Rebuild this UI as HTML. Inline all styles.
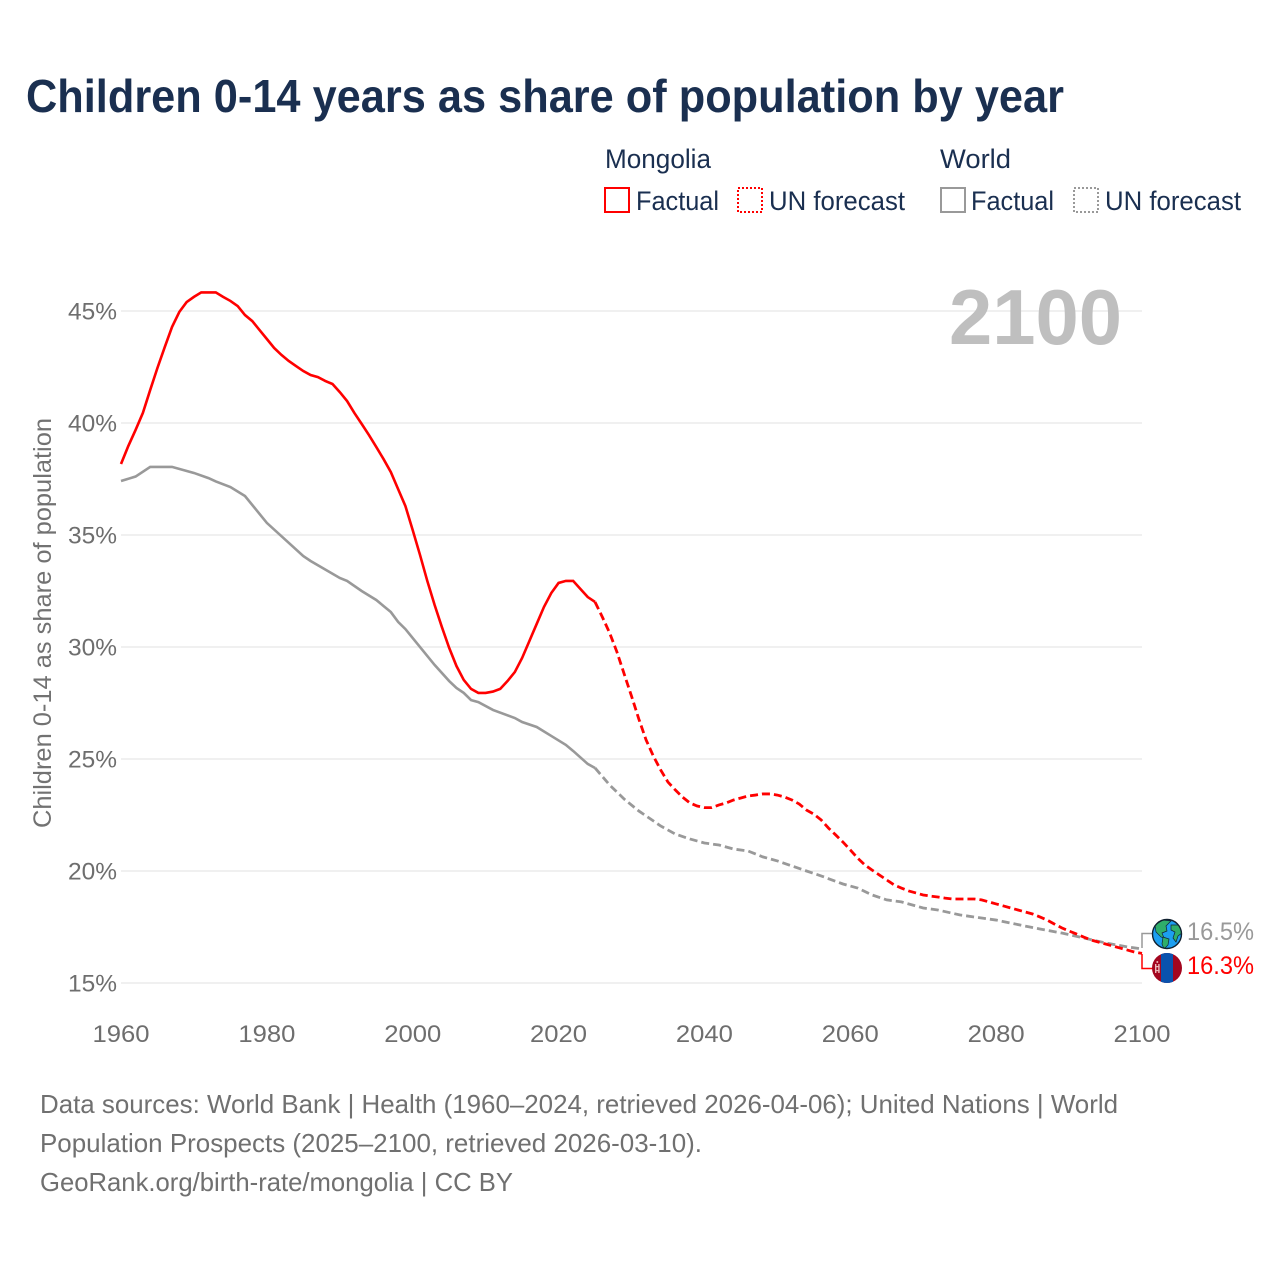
<!DOCTYPE html>
<html lang="en">
<head>
<meta charset="utf-8">
<title>Children 0-14 years as share of population by year</title>
<style>
html,body{margin:0;padding:0;background:#fff;}
svg{display:block;font-family:"Liberation Sans",sans-serif;}
</style>
</head>
<body>
<svg id="chart" xmlns="http://www.w3.org/2000/svg" width="1280" height="1280" viewBox="0 0 1280 1280">
  <rect x="0" y="0" width="1280" height="1280" fill="#ffffff"/>
  <text x="26" y="112" font-size="46" font-weight="700" fill="#1a2f50" textLength="1038" lengthAdjust="spacingAndGlyphs">Children 0-14 years as share of population by year</text>

  <g font-size="27" fill="#1a2f50">
    <text x="605" y="168" textLength="106" lengthAdjust="spacingAndGlyphs">Mongolia</text>
    <text x="940" y="168" textLength="71" lengthAdjust="spacingAndGlyphs">World</text>
    <rect x="605" y="188" width="24" height="24" fill="none" stroke="#ff0000" stroke-width="2"/>
    <text x="636" y="210" textLength="83" lengthAdjust="spacingAndGlyphs">Factual</text>
    <rect x="738" y="188" width="24" height="24" fill="none" stroke="#ff0000" stroke-width="2" stroke-dasharray="2 2"/>
    <text x="769" y="210" textLength="136" lengthAdjust="spacingAndGlyphs">UN forecast</text>
    <rect x="941" y="188" width="24" height="24" fill="none" stroke="#999999" stroke-width="2"/>
    <text x="971" y="210" textLength="83" lengthAdjust="spacingAndGlyphs">Factual</text>
    <rect x="1074" y="188" width="24" height="24" fill="none" stroke="#999999" stroke-width="2" stroke-dasharray="2 2"/>
    <text x="1105" y="210" textLength="136" lengthAdjust="spacingAndGlyphs">UN forecast</text>
  </g>

  <g id="grid"></g>
  <g id="yticks" font-size="24" fill="#6e6e6e"></g>
  <g id="xticks" font-size="24" fill="#6e6e6e"></g>

  <text transform="translate(51,623) rotate(-90)" text-anchor="middle" font-size="25" fill="#727272" textLength="410" lengthAdjust="spacingAndGlyphs">Children 0-14 as share of population</text>
  <text x="949" y="344" font-size="78" font-weight="700" fill="#bfbfbf" textLength="173" lengthAdjust="spacingAndGlyphs">2100</text>

  <g id="series"></g>

  <path d="M1142 948V933.5H1153" fill="none" stroke="#999999" stroke-width="1.5"/>
  <path d="M1142 954V968.5H1153" fill="none" stroke="#ff0000" stroke-width="1.5"/>

  <g>
    <clipPath id="globeClip"><circle cx="1167" cy="934" r="14.5"/></clipPath>
    <circle cx="1167" cy="934" r="14.5" fill="#1c9ff0"/>
    <g clip-path="url(#globeClip)" fill="#2fae6a" stroke="#123" stroke-width="0.7">
      <path d="M1155 925 L1163 920 L1171 921 L1166 926 L1167 931 L1162 933 L1164 938 L1161 937 L1156 932Z"/>
      <path d="M1163 937 L1169 939 L1168 945 L1164 949 L1162 944Z"/>
      <path d="M1171 925 L1180 925 L1182 933 L1178 936 L1176 942 L1173 938 L1175 932 L1171 930Z"/>
    </g>
    <circle cx="1167" cy="934" r="14.5" fill="none" stroke="#10202f" stroke-width="1.4"/>
  </g>
  <g>
    <clipPath id="flagClip"><circle cx="1167" cy="968" r="15"/></clipPath>
    <g clip-path="url(#flagClip)">
      <rect x="1152" y="953" width="30" height="30" fill="#a3061f"/>
      <rect x="1161" y="953" width="12" height="30" fill="#0a52ae"/>
      <rect x="1155" y="964" width="1.4" height="9" fill="#e9b7b7"/>
      <rect x="1158.2" y="964" width="1.4" height="9" fill="#e9b7b7"/>
      <rect x="1155" y="966" width="4.6" height="1.2" fill="#e9b7b7"/>
      <rect x="1155" y="970" width="4.6" height="1.2" fill="#e9b7b7"/>
      <circle cx="1157.3" cy="962" r="1" fill="#e9b7b7"/>
    </g>
  </g>
  <text x="1187" y="940" font-size="25" fill="#999999" textLength="67" lengthAdjust="spacingAndGlyphs">16.5%</text>
  <text x="1187" y="974" font-size="25" fill="#ff0000" textLength="67" lengthAdjust="spacingAndGlyphs">16.3%</text>

  <g font-size="26" fill="#707070">
    <text x="40" y="1113" textLength="1078" lengthAdjust="spacingAndGlyphs">Data sources: World Bank | Health (1960–2024, retrieved 2026-04-06); United Nations | World</text>
    <text x="40" y="1152" textLength="662" lengthAdjust="spacingAndGlyphs">Population Prospects (2025–2100, retrieved 2026-03-10).</text>
    <text x="40" y="1191" textLength="473" lengthAdjust="spacingAndGlyphs">GeoRank.org/birth-rate/mongolia | CC BY</text>
  </g>
</svg>
<script>
const yTickValues = [15, 20, 25, 30, 35, 40, 45];
const xTickValues = [1960, 1980, 2000, 2020, 2040, 2060, 2080, 2100];

const mongoliaFactualYears = [1960,1961,1962,1963,1964,1965,1966,1967,1968,1969,1970,1971,1972,1973,1974,1975,1976,1977,1978,1979,1980,1981,1982,1983,1984,1985,1986,1987,1988,1989,1990,1991,1992,1993,1994,1995,1996,1997,1998,1999,2000,2001,2002,2003,2004,2005,2006,2007,2008,2009,2010,2011,2012,2013,2014,2015,2016,2017,2018,2019,2020,2021,2022,2023,2024,2025];
const mongoliaFactualValues = [38.17,38.97,39.69,40.45,41.47,42.46,43.39,44.29,44.96,45.4,45.63,45.83,45.83,45.83,45.63,45.45,45.22,44.82,44.55,44.15,43.75,43.35,43.04,42.77,42.54,42.32,42.14,42.05,41.88,41.74,41.38,40.98,40.45,39.96,39.46,38.93,38.39,37.81,37.05,36.29,35.22,34.11,32.95,31.88,30.89,29.96,29.15,28.53,28.13,27.95,27.95,28.01,28.13,28.48,28.88,29.51,30.27,31.03,31.79,32.41,32.86,32.95,32.95,32.59,32.23,32.01];

const mongoliaForecastYears = [2025,2026,2027,2028,2029,2030,2031,2032,2033,2034,2035,2036,2037,2038,2039,2040,2041,2042,2043,2044,2045,2046,2047,2048,2049,2050,2051,2052,2053,2054,2055,2056,2057,2058,2059,2060,2061,2062,2063,2064,2065,2066,2067,2068,2069,2070,2071,2072,2073,2074,2075,2076,2077,2078,2079,2080,2081,2082,2083,2084,2085,2086,2087,2088,2089,2090,2091,2092,2093,2094,2095,2096,2097,2098,2099,2100];
const mongoliaForecastValues = [32.01,31.34,30.63,29.78,28.79,27.81,26.79,25.85,25.13,24.51,23.97,23.62,23.3,23.04,22.9,22.83,22.83,22.95,23.04,23.17,23.26,23.35,23.39,23.44,23.44,23.39,23.3,23.17,22.99,22.72,22.54,22.28,21.92,21.61,21.29,20.94,20.58,20.27,20.04,19.82,19.6,19.38,19.24,19.11,19.02,18.93,18.88,18.84,18.79,18.75,18.75,18.75,18.75,18.71,18.62,18.53,18.44,18.35,18.26,18.17,18.08,17.95,17.81,17.63,17.46,17.32,17.19,17.05,16.92,16.83,16.74,16.65,16.56,16.47,16.38,16.32];

const worldFactualYears = [1960,1962,1964,1967,1970,1972,1973,1975,1977,1979,1980,1985,1986,1990,1991,1993,1995,1997,1998,1999,2000,2003,2005,2006,2007,2008,2009,2011,2014,2015,2017,2019,2021,2022,2024,2025];
const worldFactualValues = [37.41,37.61,38.04,38.04,37.77,37.54,37.39,37.14,36.74,35.94,35.54,34.06,33.84,33.08,32.95,32.5,32.1,31.56,31.12,30.8,30.4,29.2,28.48,28.17,27.95,27.63,27.54,27.19,26.83,26.65,26.43,26.03,25.63,25.36,24.78,24.6];

const worldForecastYears = [2025,2027,2029,2031,2032,2034,2036,2038,2040,2042,2044,2046,2048,2050,2054,2056,2059,2061,2063,2065,2067,2070,2072,2075,2078,2080,2084,2086,2089,2092,2095,2098,2100];
const worldForecastValues = [24.6,23.84,23.21,22.68,22.46,22.01,21.65,21.43,21.25,21.16,20.98,20.89,20.63,20.45,20.0,19.78,19.42,19.24,18.93,18.71,18.62,18.35,18.26,18.04,17.9,17.81,17.54,17.41,17.23,17.01,16.79,16.61,16.52];

const SVG_NS = 'http://www.w3.org/2000/svg';
function xScale(year) { return 121 + (year - 1960) * (1142 - 121) / 140; }
function yScale(value) { return 983 - (value - 15) * 22.4; }
function pathFrom(years, values) {
  return years.map(function (yr, i) {
    return (i ? 'L' : 'M') + xScale(yr).toFixed(2) + ' ' + yScale(values[i]).toFixed(2);
  }).join('');
}

const gridGroup = document.getElementById('grid');
const yGroup = document.getElementById('yticks');
const xGroup = document.getElementById('xticks');
const seriesGroup = document.getElementById('series');

yTickValues.forEach(function (v) {
  const line = document.createElementNS(SVG_NS, 'line');
  
  
  line.setAttribute('x1', xScale(1960));
  line.setAttribute('x2', xScale(2100));
  line.setAttribute('y1', yScale(v));
  line.setAttribute('y2', yScale(v));
  line.setAttribute('stroke', '#ececec');
  line.setAttribute('stroke-width', '1.5');
  gridGroup.appendChild(line);

  const label = document.createElementNS(SVG_NS, 'text');
  
  
  label.setAttribute('x', 68);
  label.setAttribute('y', yScale(v) + 8.5);
  label.setAttribute('textLength', 49);
  label.setAttribute('lengthAdjust', 'spacingAndGlyphs');
  label.textContent = v + '%';
  yGroup.appendChild(label);
});

xTickValues.forEach(function (yr) {
  const label = document.createElementNS(SVG_NS, 'text');
  
  
  label.setAttribute('x', xScale(yr) - 28.5);
  label.setAttribute('y', 1042);
  label.setAttribute('textLength', 57);
  label.setAttribute('lengthAdjust', 'spacingAndGlyphs');
  label.textContent = yr;
  xGroup.appendChild(label);
});

const worldForecastLine = document.createElementNS(SVG_NS, 'path');


worldForecastLine.setAttribute('d', pathFrom(worldForecastYears, worldForecastValues));
worldForecastLine.setAttribute('fill', 'none');
worldForecastLine.setAttribute('stroke', '#999999');
worldForecastLine.setAttribute('stroke-width', '2.8');
worldForecastLine.setAttribute('stroke-dasharray', '8 4');
seriesGroup.appendChild(worldForecastLine);

const worldFactualLine = document.createElementNS(SVG_NS, 'path');


worldFactualLine.setAttribute('d', pathFrom(worldFactualYears, worldFactualValues));
worldFactualLine.setAttribute('fill', 'none');
worldFactualLine.setAttribute('stroke', '#999999');
worldFactualLine.setAttribute('stroke-width', '2.6');
seriesGroup.appendChild(worldFactualLine);

const mongoliaForecastLine = document.createElementNS(SVG_NS, 'path');


mongoliaForecastLine.setAttribute('d', pathFrom(mongoliaForecastYears, mongoliaForecastValues));
mongoliaForecastLine.setAttribute('fill', 'none');
mongoliaForecastLine.setAttribute('stroke', '#ff0000');
mongoliaForecastLine.setAttribute('stroke-width', '2.8');
mongoliaForecastLine.setAttribute('stroke-dasharray', '8 4');
seriesGroup.appendChild(mongoliaForecastLine);

const mongoliaFactualLine = document.createElementNS(SVG_NS, 'path');


mongoliaFactualLine.setAttribute('d', pathFrom(mongoliaFactualYears, mongoliaFactualValues));
mongoliaFactualLine.setAttribute('fill', 'none');
mongoliaFactualLine.setAttribute('stroke', '#ff0000');
mongoliaFactualLine.setAttribute('stroke-width', '2.6');
seriesGroup.appendChild(mongoliaFactualLine);
</script>
</body>
</html>
